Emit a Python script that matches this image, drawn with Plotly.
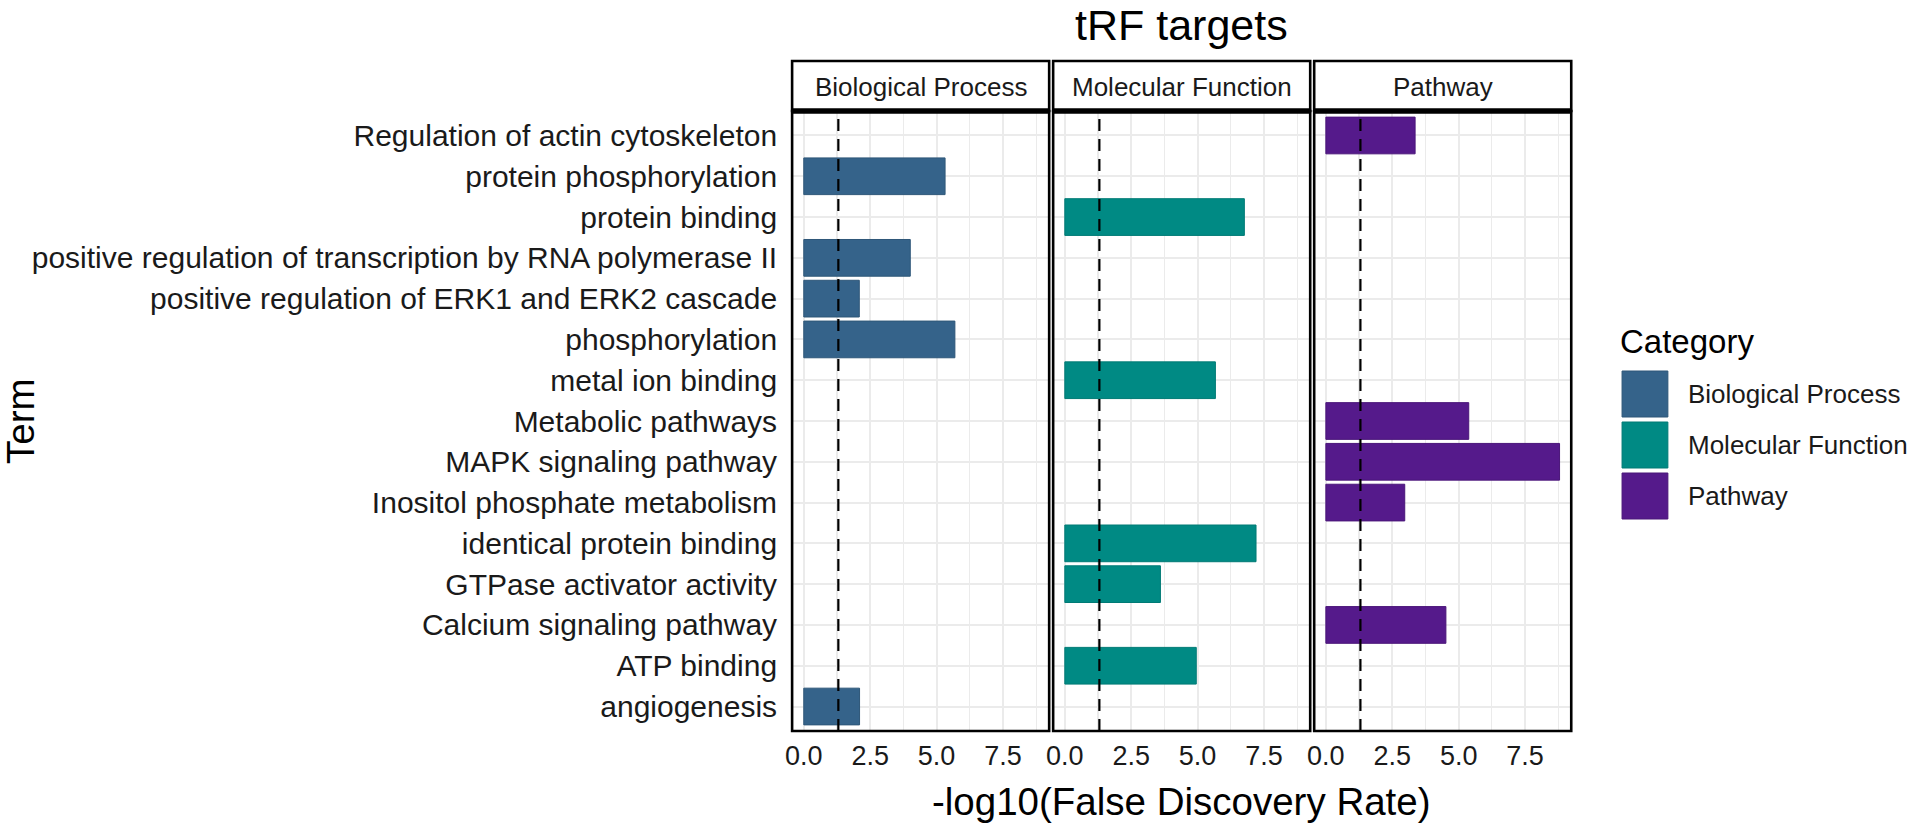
import plotly.graph_objects as go

# ---------------- data ----------------
terms = [
    "Regulation of actin cytoskeleton",
    "protein phosphorylation",
    "protein binding",
    "positive regulation of transcription by RNA polymerase II",
    "positive regulation of ERK1 and ERK2 cascade",
    "phosphorylation",
    "metal ion binding",
    "Metabolic pathways",
    "MAPK signaling pathway",
    "Inositol phosphate metabolism",
    "identical protein binding",
    "GTPase activator activity",
    "Calcium signaling pathway",
    "ATP binding",
    "angiogenesis",
]
term_category = [
    "Pathway",
    "Biological Process",
    "Molecular Function",
    "Biological Process",
    "Biological Process",
    "Biological Process",
    "Molecular Function",
    "Pathway",
    "Pathway",
    "Pathway",
    "Molecular Function",
    "Molecular Function",
    "Pathway",
    "Molecular Function",
    "Biological Process",
]
neg_log10_fdr = [3.36, 5.32, 6.76, 4.01, 2.09, 5.69, 5.67, 5.38, 8.80, 2.97,
                 7.20, 3.60, 4.52, 4.95, 2.10]

facets = ["Biological Process", "Molecular Function", "Pathway"]
facet_colors = ["#35638A", "#008A84", "#551A8B"]
facet_lines = ["#2E5778", "#007A75", "#4A1679"]
x_ticks = [0.0, 2.5, 5.0, 7.5]
x_tick_text = ["0.0", "2.5", "5.0", "7.5"]
fdr_threshold = 1.30103  # -log10(0.05)

title_text = "tRF targets"
x_title = "-log10(False Discovery Rate)"
y_title = "Term"
legend_title = "Category"

# ---------------- layout helpers ----------------
W, H = 1908, 824
FONT = "Liberation Sans, Arial, Helvetica, sans-serif"


def px(x):
    return x / W


def py(y):
    return 1 - y / H


panels = [(788, 1046), (1050, 1308), (1312, 1570)]
PANEL_TOP, PANEL_BOTTOM = 111, 731
STRIP_TOP = 61

order_bottom_to_top = terms[::-1]
xmax = max(neg_log10_fdr)
xrange = [-0.05 * xmax, 1.05 * xmax]

fig = go.Figure()

shapes = []
annotations = []
for i, facet in enumerate(facets):
    xs = [v for v, c in zip(neg_log10_fdr, term_category) if c == facet]
    ys = [t for t, c in zip(terms, term_category) if c == facet]
    xa = "x" if i == 0 else f"x{i + 1}"
    ya = "y" if i == 0 else f"y{i + 1}"
    fig.add_trace(go.Bar(
        x=xs, y=ys, orientation="h", width=0.9,
        marker=dict(color=facet_colors[i], line=dict(color=facet_lines[i], width=1)),
        xaxis=xa, yaxis=ya, name=facet, showlegend=False,
    ))
    x0, x1 = panels[i]
    xkey = "xaxis" if i == 0 else f"xaxis{i + 1}"
    ykey = "yaxis" if i == 0 else f"yaxis{i + 1}"
    fig.update_layout(**{
        xkey: dict(
            domain=[px(x0), px(x1)], anchor=ya, range=xrange,
            tickmode="array", tickvals=x_ticks, ticktext=x_tick_text,
            showgrid=True, gridcolor="#EBEBEB", gridwidth=2,
            minor=dict(dtick=1.25, tick0=0, showgrid=True, gridcolor="#EBEBEB", gridwidth=1.2),
            zeroline=False, showline=False, ticks="",
            tickfont=dict(family=FONT, size=27, color="#1A1A1A"),
            ticklabelstandoff=6,
            fixedrange=True,
        ),
        ykey: dict(
            domain=[py(PANEL_BOTTOM), py(PANEL_TOP)], anchor=xa,
            type="category", categoryorder="array", categoryarray=order_bottom_to_top,
            range=[-0.6, len(terms) - 0.4],
            showgrid=True, gridcolor="#EBEBEB", gridwidth=2,
            zeroline=False, showline=False, ticks="",
            showticklabels=(i == 0),
            tickfont=dict(family=FONT, size=30, color="#1A1A1A"),
            ticklabelstandoff=14,
            fixedrange=True,
            **({} if i == 0 else {"matches": "y"}),
        ),
    })
    # threshold dashed line
    shapes.append(dict(type="line", xref=xa, yref="paper",
                       x0=fdr_threshold, x1=fdr_threshold,
                       y0=py(PANEL_BOTTOM), y1=py(PANEL_TOP),
                       line=dict(color="black", width=2.2, dash="12px,8px"), layer="above"))
    # panel border
    shapes.append(dict(type="rect", xref="paper", yref="paper",
                       x0=px(x0), x1=px(x1), y0=py(PANEL_BOTTOM), y1=py(PANEL_TOP),
                       line=dict(color="black", width=2.6), layer="above"))
    # strip
    shapes.append(dict(type="rect", xref="paper", yref="paper",
                       x0=px(x0), x1=px(x1), y0=py(PANEL_TOP), y1=py(STRIP_TOP),
                       fillcolor="white", line=dict(color="black", width=2.6), layer="above"))
    shapes.append(dict(type="line", xref="paper", yref="paper",
                       x0=px(x0), x1=px(x1), y0=py(PANEL_TOP), y1=py(PANEL_TOP),
                       line=dict(color="black", width=5.5), layer="above"))
    annotations.append(dict(text=facet, xref="paper", yref="paper",
                            x=px((x0 + x1) / 2), y=py(87), xanchor="center", yanchor="middle",
                            showarrow=False, font=dict(family=FONT, size=26, color="#1A1A1A")))

# titles
annotations.append(dict(text=title_text, xref="paper", yref="paper",
                        x=px(1179), y=py(25), xanchor="center", yanchor="middle",
                        showarrow=False, font=dict(family=FONT, size=43, color="black")))
annotations.append(dict(text=x_title, xref="paper", yref="paper",
                        x=px(1179), y=py(801), xanchor="center", yanchor="middle",
                        showarrow=False, font=dict(family=FONT, size=38.5, color="black")))
annotations.append(dict(text=y_title, xref="paper", yref="paper",
                        x=px(13), y=py(421), xanchor="center", yanchor="middle", textangle=-90,
                        showarrow=False, font=dict(family=FONT, size=38.5, color="black")))

# legend (manual, ggplot style)
annotations.append(dict(text=legend_title, xref="paper", yref="paper",
                        x=px(1617), y=py(342), xanchor="left", yanchor="middle",
                        showarrow=False, font=dict(family=FONT, size=33, color="black")))
key_tops = [371, 422, 473]
for i, facet in enumerate(facets):
    t = key_tops[i]
    shapes.append(dict(type="rect", xref="paper", yref="paper",
                       x0=px(1621), x1=px(1667), y0=py(t + 46), y1=py(t),
                       fillcolor=facet_colors[i], line=dict(color=facet_lines[i], width=1)))
    annotations.append(dict(text=facet, xref="paper", yref="paper",
                            x=px(1685), y=py(t + 23), xanchor="left", yanchor="middle",
                            showarrow=False, font=dict(family=FONT, size=26, color="#1A1A1A")))

fig.update_layout(
    width=W, height=H,
    margin=dict(l=0, r=0, t=0, b=0),
    paper_bgcolor="white", plot_bgcolor="white",
    showlegend=False,
    bargap=0.1,
    shapes=shapes, annotations=annotations,
    font=dict(family=FONT),
)

fig.write_html(
    "out.html",
    config={"displayModeBar": False, "staticPlot": True},
    post_script="document.body.style.margin='0';document.body.style.overflow='hidden';",
)
